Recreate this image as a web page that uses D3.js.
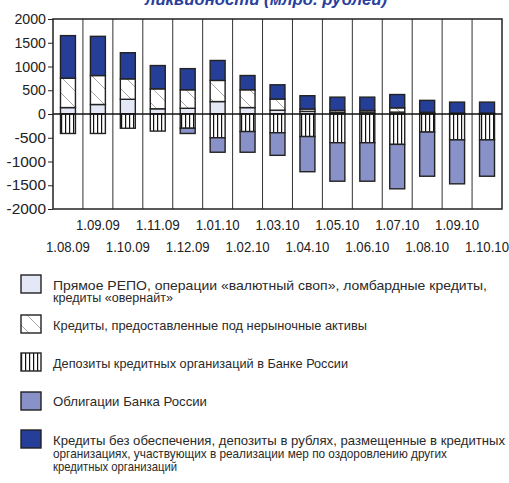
<!DOCTYPE html>
<html>
<head>
<meta charset="utf-8">
<script src="https://cdn.jsdelivr.net/npm/d3@7"></script>
<style>
  html, body { margin: 0; padding: 0; background: #fff; }
  svg { display: block; }
  text { font-family: "Liberation Sans Narrow", "Arial Narrow", "Liberation Sans", sans-serif; }
</style>
</head>
<body>
<svg id="chart" width="509" height="483"></svg>
<script>
// dates on the x axis
var dates = ["1.08.09", "1.09.09", "1.10.09", "1.11.09", "1.12.09", "1.01.10", "1.02.10", "1.03.10",
    "1.04.10", "1.05.10", "1.06.10", "1.07.10", "1.08.10", "1.09.10", "1.10.10"];

// billions of rubles
var repo = [135, 200, 310, 110, 120, 262, 135, 80, 55, 35, 40, 40, 12, 10, 10];
var nonMarket = [620, 610, 430, 420, 390, 445, 375, 235, 50, 40, 35, 90, 25, 10, 10];
var unsecured = [895, 825, 550, 490, 445, 420, 300, 300, 280, 280, 280, 280, 250, 230, 230];
var deposits = [-410, -410, -300, -360, -300, -500, -370, -395, -475, -605, -605, -640, -380, -545, -545];
var bonds = [0, 0, 0, 0, -110, -305, -435, -475, -740, -810, -810, -935, -930, -925, -765];

var yTicks = [2000, 1500, 1000, 500, 0, -500, -1000, -1500, -2000];

var legendLabels = [
    ["Прямое РЕПО, операции «валютный своп», ломбардные кредиты,", "кредиты «овернайт»"],
    ["Кредиты, предоставленные под нерыночные активы"],
    ["Депозиты кредитных организаций в Банке России"],
    ["Облигации Банка России"],
    ["Кредиты без обеспечения,  депозиты в рублях, размещенные в кредитных",
        "организациях, участвующих в реализации мер по оздоровлению других",
        "кредитных организаций"]
];

var DARK = "#253f98", BOND = "#8891c8", LIGHT = "#e4e7f5", INK = "#222";

var svg = d3.select("#chart");

var defs = svg.append("defs");
var hatch = defs.append("pattern").attr("id", "hatch")
    .attr("patternUnits", "userSpaceOnUse").attr("width", 16).attr("height", 16);
hatch.append("rect").attr("width", 16).attr("height", 16).attr("fill", "#fff");
hatch.append("path").attr("d", "M0,0L16,16").attr("stroke", "#a8a8a8").attr("stroke-width", 1);

var stripes = defs.append("pattern").attr("id", "stripes")
    .attr("patternUnits", "userSpaceOnUse").attr("width", 4).attr("height", 4);
stripes.append("rect").attr("width", 4).attr("height", 4).attr("fill", "#fff");
stripes.append("rect").attr("x", 1).attr("width", 1.2).attr("height", 4).attr("fill", "#111");

var fills = {
    repo: LIGHT,
    nonMarket: "url(#hatch)",
    deposits: "url(#stripes)",
    bonds: BOND,
    unsecured: DARK
};

// title line (cut off at top in the original)
svg.append("text")
    .attr("x", 145).attr("y", 5)
    .attr("textLength", 242).attr("lengthAdjust", "spacingAndGlyphs")
    .style("font-family", "'Liberation Sans', sans-serif")
    .style("font-size", "16px").style("font-weight", "bold").style("font-style", "italic")
    .style("fill", "#2a3f9c")
    .text("ликвидности (млрд. рублей)");

var plot = { left: 53, right: 502, top: 19, bottom: 209 };

var x = d3.scaleBand().domain(dates).range([plot.left, plot.right]).padding(0);
var y = d3.scaleLinear().domain([-2000, 2000]).range([plot.bottom, plot.top]);

var table = dates.map(function (d, i) {
    return { date: d, repo: repo[i], nonMarket: nonMarket[i], deposits: deposits[i], bonds: bonds[i], unsecured: unsecured[i] };
});
var keys = ["repo", "nonMarket", "deposits", "bonds", "unsecured"];
var series = d3.stack().keys(keys).offset(d3.stackOffsetDiverging)(table);

// vertical separators between dates
svg.append("g").selectAll("line")
    .data(dates.slice(1))
    .enter().append("line")
    .attr("x1", function (d) { return x(d); })
    .attr("x2", function (d) { return x(d); })
    .attr("y1", plot.top).attr("y2", plot.bottom)
    .attr("stroke", "#333").attr("stroke-width", 1);

// bars
var barW = x.bandwidth() * 0.5;
svg.append("g").selectAll("g")
    .data(series)
    .enter().append("g")
    .attr("fill", function (s) { return fills[s.key]; })
    .selectAll("rect")
    .data(function (s) { return s.filter(function (p) { return p[1] - p[0] !== 0; }); })
    .enter().append("rect")
    .attr("x", function (p) { return x(p.data.date) + (x.bandwidth() - barW) / 2; })
    .attr("width", barW)
    .attr("y", function (p) { return y(Math.max(p[0], p[1])); })
    .attr("height", function (p) { return Math.abs(y(p[0]) - y(p[1])); })
    .attr("stroke", INK).attr("stroke-width", 1.4);

// zero line
svg.append("line")
    .attr("x1", plot.left).attr("x2", plot.right)
    .attr("y1", y(0)).attr("y2", y(0))
    .attr("stroke", "#111").attr("stroke-width", 1.5);

// frame
svg.append("rect")
    .attr("x", plot.left).attr("y", plot.top)
    .attr("width", plot.right - plot.left).attr("height", plot.bottom - plot.top)
    .attr("fill", "none").attr("stroke", INK).attr("stroke-width", 1.5);

// y axis
var yAxis = svg.append("g")
    .attr("transform", "translate(" + plot.left + ",0)")
    .call(d3.axisLeft(y).tickValues(yTicks).tickSize(5).tickPadding(2).tickFormat(d3.format("d")));
yAxis.select(".domain").remove();
yAxis.selectAll("line").attr("stroke", INK);
yAxis.selectAll("text")
    .style("font-size", "14.5px").style("fill", INK)
    .attr("textLength", function (d) { return String(d).length * 7.9; })
    .attr("lengthAdjust", "spacingAndGlyphs")
    .text(function (d) { return d < 0 ? "-" + Math.abs(d) : d; });

// x labels in two staggered rows
svg.append("g").selectAll("text")
    .data(dates)
    .enter().append("text")
    .attr("x", function (d) { return x(d) + x.bandwidth() / 2; })
    .attr("y", function (d, i) { return i % 2 ? 230 : 252; })
    .attr("text-anchor", "middle")
    .attr("textLength", 44).attr("lengthAdjust", "spacingAndGlyphs")
    .style("font-size", "14px").style("fill", INK)
    .text(function (d) { return d; });

// legend
var legendBoxY = [275, 315, 353, 392, 430];
var legendLineY = [[290, 302], [330], [368], [406], [445, 458, 471]];
var legendLineW = [[434, 120], [314], [295], [154], [452, 394, 124]];
var legendFill = [fills.repo, fills.nonMarket, fills.deposits, fills.bonds, fills.unsecured];

var legend = svg.append("g").selectAll("g")
    .data(legendLabels)
    .enter().append("g");

legend.append("rect")
    .attr("x", 21).attr("y", function (d, i) { return legendBoxY[i]; })
    .attr("width", 20).attr("height", 18)
    .attr("fill", function (d, i) { return legendFill[i]; })
    .attr("stroke", INK).attr("stroke-width", 1.4);

legend.each(function (lines, i) {
    d3.select(this).selectAll("text")
        .data(lines)
        .enter().append("text")
        .attr("x", 53)
        .attr("y", function (d, j) { return legendLineY[i][j]; })
        .attr("textLength", function (d, j) { return legendLineW[i][j]; })
        .attr("lengthAdjust", "spacingAndGlyphs")
        .style("font-size", "13px").style("fill", "#2a2a2a")
        .text(function (d) { return d; });
});
</script>
</body>
</html>
